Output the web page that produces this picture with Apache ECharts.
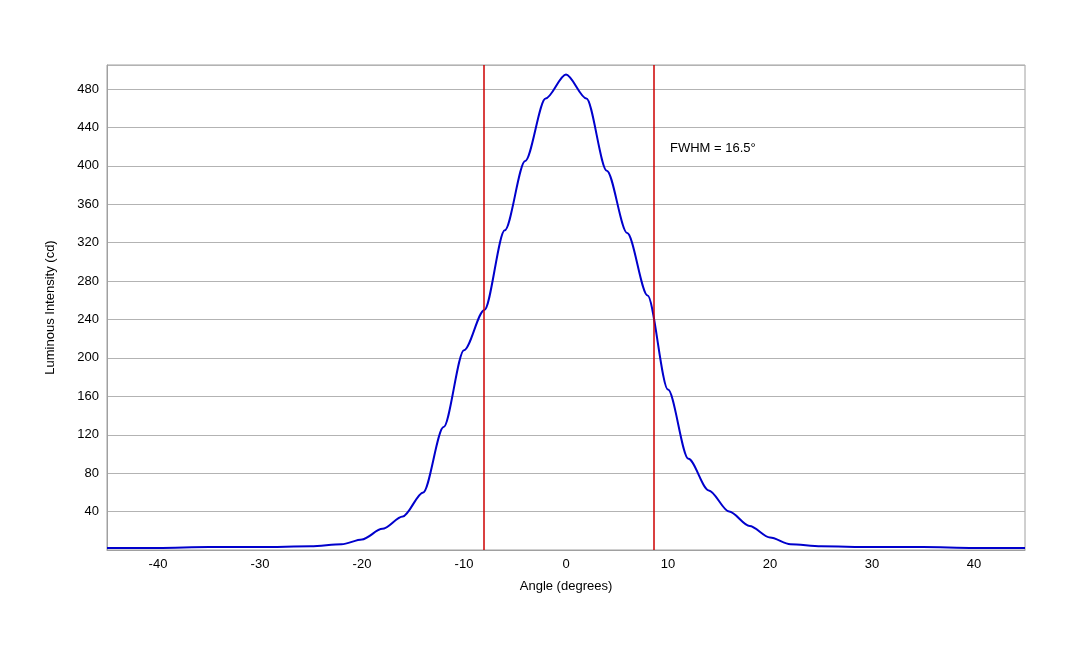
<!DOCTYPE html>
<html>
<head>
<meta charset="utf-8">
<script src="https://cdn.jsdelivr.net/npm/echarts@6/dist/echarts.min.js"></script>
<style>html,body{margin:0;padding:0;background:#fff}#main{width:1080px;height:648px}</style>
</head>
<body>
<div id="main"></div>
<script>
var angles = [-45, -40, -35, -30, -25, -22, -20, -18, -16, -14, -12, -10, -8, -6, -4, -2, 0, 2, 4, 6, 8, 10, 12, 14, 16, 18, 20, 22, 25, 30, 35, 40, 45];
var intensity = [2, 2, 3, 3, 4, 6, 11, 22, 35, 60, 128, 208, 250, 333, 405, 470, 495, 470, 395, 330, 265, 167, 95, 62, 40, 25, 13, 6, 4, 3, 3, 2, 2];
var fwhmLines = [-8.1, 8.6];

var chart = echarts.init(document.getElementById('main'));
var font = 'Liberation Sans, Arial, sans-serif';

chart.setOption({
    animation: false,
    grid: { left: 107, right: 55, top: 65, bottom: 98, show: true, borderColor: '#a0a0a0', borderWidth: 1 },
    xAxis: {
        type: 'value', min: -45, max: 45, interval: 10,
        name: 'Angle (degrees)', nameLocation: 'middle', nameGap: 30,
        nameTextStyle: { color: '#000', fontSize: 13, fontFamily: font },
        axisLine: { show: true, onZero: false, lineStyle: { color: '#a0a0a0' } },
        axisTick: { show: false },
        splitLine: { show: false },
        axisLabel: {
            color: '#000', fontSize: 13, fontFamily: font,
            customValues: [-40, -30, -20, -10, 0, 10, 20, 30, 40]
        }
    },
    yAxis: {
        type: 'value', min: 0, max: 505, interval: 40,
        name: 'Luminous Intensity (cd)', nameLocation: 'middle', nameGap: 50,
        nameTextStyle: { color: '#000', fontSize: 13, fontFamily: font },
        axisLine: { show: true, onZero: false, lineStyle: { color: '#a0a0a0' } },
        axisTick: { show: false },
        splitLine: { lineStyle: { color: '#b3b3b3' } },
        axisLabel: {
            color: '#000', fontSize: 13, fontFamily: font, showMaxLabel: false,
            formatter: function (v) { return v === 0 ? '' : v; }
        }
    },
    series: [{
        type: 'line',
        data: angles.map(function (a, i) { return [a, intensity[i]]; }),
        smooth: 0.3,
        smoothMonotone: 'x',
        showSymbol: false,
        lineStyle: { color: '#0000cc', width: 2 },
        markLine: {
            symbol: 'none', silent: true,
            label: { show: false },
            lineStyle: { color: '#cc0000', width: 1.5, type: 'solid' },
            data: fwhmLines.map(function (x) { return { xAxis: x }; })
        }
    }],
    graphic: [{
        type: 'text', left: 670, top: 142,
        style: { text: 'FWHM = 16.5°', fill: '#000', font: '13px ' + font }
    }]
});
</script>
</body>
</html>
